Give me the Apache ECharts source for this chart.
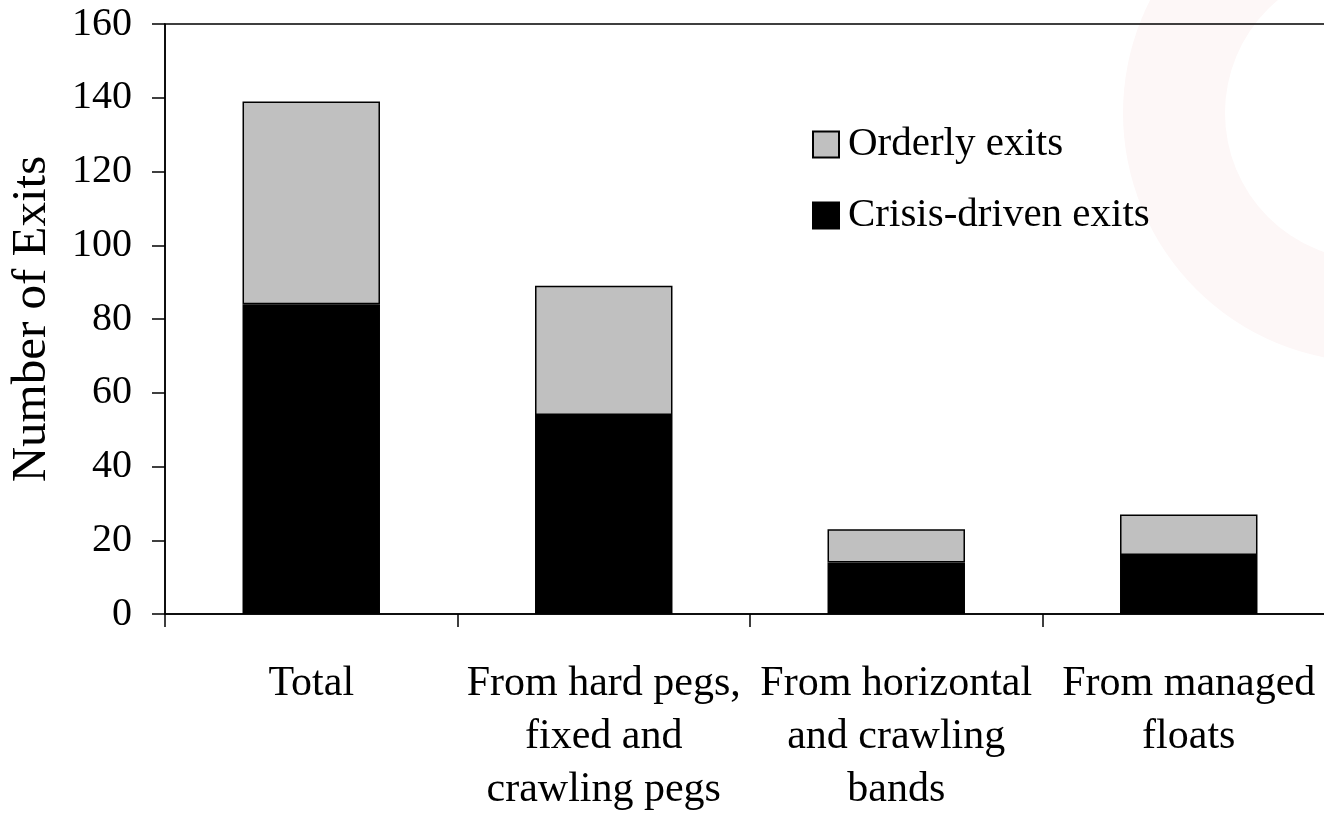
<!DOCTYPE html>
<html>
<head>
<meta charset="utf-8">
<script src="https://cdn.jsdelivr.net/npm/echarts@6/dist/echarts.min.js"></script>
<style>
  html, body { margin: 0; padding: 0; background: #fff; }
  #chart { width: 1324px; height: 815px; }
</style>
</head>
<body>
<div id="chart"></div>
<script>
// Exits from exchange-rate regimes, split into crisis-driven and orderly
const categories = [
  'Total',
  'From hard pegs,\nfixed and\ncrawling pegs',
  'From horizontal\nand crawling\nbands',
  'From managed\nfloats'
];
const crisisExits = [84, 54, 14, 16];
const orderlyExits = [55, 35, 9, 11];
const yTicks = { min: 0, max: 160, interval: 20 };

const FONT = '"Liberation Serif", "Times New Roman", serif';

const chart = echarts.init(document.getElementById('chart'), null, { renderer: 'canvas' });

chart.setOption({
  animation: false,
  backgroundColor: '#ffffff',
  textStyle: { fontFamily: FONT, color: '#000' },
  graphic: [
    {
      // faint decorative ring in the upper right corner
      type: 'ring',
      z: -10,
      silent: true,
      shape: { cx: 1372, cy: 113, r: 249, r0: 147 },
      style: { fill: '#fdf7f7' }
    }
  ],
  grid: {
    left: 165,
    width: 1170,
    top: 24,
    bottom: 201,
    outerBoundsMode: 'none',
    show: true,
    borderColor: '#000',
    borderWidth: 1.5,
    backgroundColor: 'transparent'
  },
  legend: {
    orient: 'vertical',
    left: 807,
    top: 119,
    itemGap: 30,
    itemWidth: 26,
    itemHeight: 26,
    icon: 'rect',
    data: ['Orderly exits', 'Crisis-driven exits'],
    textStyle: { fontFamily: FONT, fontSize: 41, lineHeight: 40, color: '#000', padding: [0, 0, 0, 4] }
  },
  xAxis: {
    type: 'category',
    data: categories,
    boundaryGap: true,
    axisLine: { show: true, lineStyle: { color: '#000', width: 1.5 } },
    axisTick: { show: true, length: 13, inside: false, alignWithLabel: false, lineStyle: { color: '#000', width: 1.5 } },
    axisLabel: {
      interval: 0,
      margin: 43,
      fontFamily: FONT,
      fontSize: 42,
      lineHeight: 53,
      color: '#000',
      align: 'center'
    }
  },
  yAxis: {
    type: 'value',
    min: yTicks.min,
    max: yTicks.max,
    interval: yTicks.interval,
    name: 'Number of Exits',
    nameLocation: 'middle',
    nameGap: 108,
    nameRotate: 90,
    nameTextStyle: { fontFamily: FONT, fontSize: 49, color: '#000' },
    splitLine: { show: false },
    axisLine: { show: true, lineStyle: { color: '#000', width: 1.5 } },
    axisTick: { show: true, length: 13, inside: false, lineStyle: { color: '#000', width: 1.5 } },
    axisLabel: { margin: 33, fontFamily: FONT, fontSize: 40, color: '#000' }
  },
  series: [
    {
      name: 'Crisis-driven exits',
      type: 'bar',
      stack: 'exits',
      barWidth: '47%',
      data: crisisExits,
      itemStyle: { color: '#000000', borderColor: '#000', borderWidth: 1.5 }
    },
    {
      name: 'Orderly exits',
      type: 'bar',
      stack: 'exits',
      barWidth: '47%',
      data: orderlyExits,
      itemStyle: { color: '#c0c0c0', borderColor: '#000', borderWidth: 1.5 }
    }
  ]
});
</script>
</body>
</html>
